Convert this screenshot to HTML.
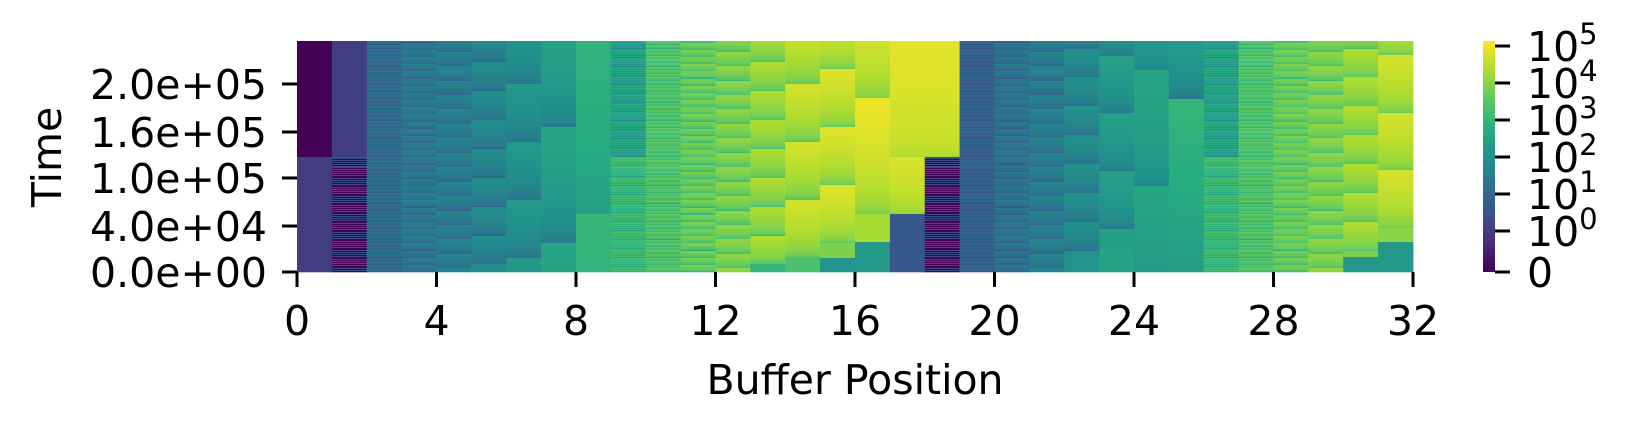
<!DOCTYPE html>
<html><head><meta charset="utf-8"><style>
html,body{margin:0;padding:0;background:#fff}
svg{display:block}
text{font-family:"DejaVu Sans","Liberation Sans",sans-serif;fill:#000}
</style></head><body>
<svg id="chart" width="1626" height="432" viewBox="0 0 1626 432" xmlns="http://www.w3.org/2000/svg">
<defs><linearGradient id="vir" x1="0" y1="1" x2="0" y2="0">
<stop offset="0" stop-color="#440154"/><stop offset="0.125" stop-color="#472c7a"/><stop offset="0.25" stop-color="#3b528b"/><stop offset="0.375" stop-color="#2c728e"/><stop offset="0.5" stop-color="#21918c"/><stop offset="0.625" stop-color="#28ae80"/><stop offset="0.75" stop-color="#5ec962"/><stop offset="0.875" stop-color="#addc30"/><stop offset="1" stop-color="#fde725"/>
</linearGradient></defs>
<g id="cells"></g>
<g id="axes"></g>
<rect x="1483" y="41" width="12" height="231" fill="url(#vir)"/>
<g id="cbar"></g>
<text x="855" y="394" font-size="41" text-anchor="middle">Buffer Position</text>
<text x="0" y="0" font-size="41" text-anchor="middle" transform="translate(61,157) rotate(-90)">Time</text>
</svg>
<script>
// Segments: column index, start/end (fraction of time, from bottom), reset period, offset, log10 value low/high (-2 = zero)
// Earlier segments take priority when overlapping.
const segColumn = [13,14,15,16,17,30,31, 0,0,1,1,2,3,4,5,6,7,8,9,9,10,11,12,13,14,15,15,16,16,17,17,18,18,19,20,21,22,22,23,23,24,25,26,26,27,28,29,30,30,31,31];
const segStart  = [0,0,0.062,0.13,0.25,0.065,0.13, 0,0.5,0,0.5,0,0,0,0,0,0,0,0,0.5,0,0,0,0,0,0.062,0,0.13,0,0.5,0,0.5,0,0,0,0,0.065,0,0.1,0,0,0,0,0.5,0,0,0,0.065,0,0.13,0];
const segEnd    = [0.033,0.062,0.127,0.252,0.5,0.092,0.19, 0.5,1,0.5,1,1,1,1,1,1,1,1,0.5,1,1,1,1,1,1,1,0.062,1,0.13,1,0.25,1,0.5,1,1,1,1,0.065,1,0.1,1,1,0.5,1,1,1,1,1,0.065,1,0.13];
const segPeriod = [0,0,0,0,0.25,0,0, 0,0,0.0078,0,0.0156,0.031,0.0625,0.125,0.25,0.5,1,0.0078,0.0078,0.0156,0.031,0.0625,0.125,0.25,0.25,0,0.5,0,1,0,1,0.0078,0.0156,0.031,0.0625,0.125,0,0.25,0,0.5,1,0.0078,0.0078,0.0156,0.031,0.0625,0.125,0,0.25,0];
const segOffset = [0,0,0,0,0.25,0,0, 0,0,0,0,0,0,0.016,0.033,0.062,0.127,0.25,0,0,0,0,0.016,0.033,0.062,0.127,0,0.252,0,0.5,0,0.5,0,0,0,0.016,0.092,0,0.187,0,0.374,0.749,0,0,0,0,0.016,0.092,0,0.19,0];
const segLow    = [3.0,3.3,3.9,4.3,3.9,3.9,4.0, 0,-2,-2,0,0.3,0.5,0.6,0.8,1.0,1.2,2.2,2.3,1.3,2.6,2.7,2.9,3.1,3.2,3.4,2.1,3.6,2.2,4.3,0.6,4.3,-2,0.2,0.4,0.6,0.9,2.1,1.2,2.5,1.6,1.2,2.3,1.4,2.6,2.8,3.0,3.2,2.2,3.5,2.2];
const segHigh   = [3.0,3.3,3.9,4.3,4.8,3.9,4.0, 0,-2,0.3,0,1.3,1.6,1.75,1.95,2.25,2.6,3.0,3.3,2.8,3.6,3.9,4.1,4.4,4.75,4.85,2.1,5.0,2.2,5.05,0.6,5.05,0.3,1.0,1.5,1.75,2.05,2.1,2.45,2.5,2.6,3.0,3.3,2.8,3.6,3.9,4.1,4.4,2.2,4.75,2.2];
const xTicks = [0,4,8,12,16,20,24,28,32];
const yTickLabels = ["0.0e+00","4.0e+04","1.0e+05","1.6e+05","2.0e+05"];
const yTickFrac = [0,0.199,0.407,0.606,0.814];
const cbarExp = [0,1,2,3,4,5];

const NS='http://www.w3.org/2000/svg';
const X0=297,X1=1413,Y0=41,Y1=272,NCOL=32,ROWS=231;
const cw=(X1-X0)/NCOL;
const xs=c=>X0+c*cw;
const ys=f=>Y1-f*(Y1-Y0);
function cfrac(L){ if(L<=-2) return 0; const v=Math.pow(10,L); let f=v<1? v*41/231 : (41+37*Math.log10(v))/231; return Math.max(0,Math.min(1,f)); }
const stops=[[0,[68,1,84]],[0.125,[71,44,122]],[0.25,[59,82,139]],[0.375,[44,114,142]],[0.5,[33,145,140]],[0.625,[40,174,128]],[0.75,[94,201,98]],[0.875,[173,220,48]],[1,[253,231,37]]];
function vir(f){ for(let i=1;i<stops.length;i++){ if(f<=stops[i][0]){ const a=stops[i-1],b=stops[i],t=(f-a[0])/(b[0]-a[0]); return 'rgb('+a[1].map((v,k)=>Math.round(v+(b[1][k]-v)*t)).join(',')+')'; } } return 'rgb(253,231,37)'; }
const cells=document.getElementById('cells');
for(let c=0;c<NCOL;c++){
  let prev=null,startR=0;
  const colors=[];
  for(let r=0;r<ROWS;r++){
    const y=(ROWS-r-0.5)/ROWS;
    let col='#440154';
    for(let s=0;s<segColumn.length;s++){
      if(segColumn[s]!==c||y<segStart[s]||y>=segEnd[s]) continue;
      let L;
      if(segPeriod[s]===0){ L=segLow[s]; }
      else{
        let ph=((y-segOffset[s])%segPeriod[s]+segPeriod[s])%segPeriod[s]/segPeriod[s];
        if(segLow[s]<=-2){ L= ph<0.5? -2 : segHigh[s]; }
        else L=segLow[s]+(segHigh[s]-segLow[s])*Math.pow(ph,0.35);
      }
      col=vir(cfrac(L)); break;
    }
    colors.push(col);
  }
  for(let r=0;r<=ROWS;r++){
    if(r===ROWS||colors[r]!==prev){
      if(prev!==null){
        const rc=document.createElementNS(NS,'rect');
        
        
        rc.setAttribute('x',xs(c)); rc.setAttribute('width',cw+0.4);
        rc.setAttribute('y',Y0+startR*(Y1-Y0)/ROWS); rc.setAttribute('height',(r-startR)*(Y1-Y0)/ROWS+0.3);
        rc.setAttribute('fill',prev); cells.appendChild(rc);
      }
      if(r<ROWS){prev=colors[r];startR=r;}
    }
  }
}
const axes=document.getElementById('axes');
function line(x1,y1,x2,y2,name,g){const l=document.createElementNS(NS,'line');l.setAttribute('x1',x1);l.setAttribute('y1',y1);l.setAttribute('x2',x2);l.setAttribute('y2',y2);l.setAttribute('stroke','#000');l.setAttribute('stroke-width','3');


g.appendChild(l);}
function txt(x,y,s,anchor,name,g,size){const t=document.createElementNS(NS,'text');t.setAttribute('x',x);t.setAttribute('y',y);t.setAttribute('font-size',size||41);t.setAttribute('text-anchor',anchor);t.textContent=s;


g.appendChild(t);return t;}
xTicks.forEach(v=>{const x=xs(v);line(x,Y1,x,Y1+15,'x-tick',axes);txt(x,335,String(v),'middle','x-tick-label',axes);});
yTickLabels.forEach((s,i)=>{const y=ys(yTickFrac[i]);line(X0-15,y,X0,y,'y-tick',axes);txt(267,y+15,s,'end','y-tick-label',axes);});
const cb=document.getElementById('cbar');
line(1495,Y1,1510,Y1,'colorbar-tick',cb);
txt(1527,Y1+15,'0','start','colorbar-tick-label',cb);
cbarExp.forEach(e=>{const y=Y1-(41+37*e);line(1495,y,1510,y,'colorbar-tick',cb);
  const t=txt(1527,y+15,'10','start','colorbar-tick-label',cb);
  const sp=document.createElementNS(NS,'tspan');sp.setAttribute('font-size','29');sp.setAttribute('dy','-17');sp.textContent=String(e);t.appendChild(sp);});
</script>
</body></html>
